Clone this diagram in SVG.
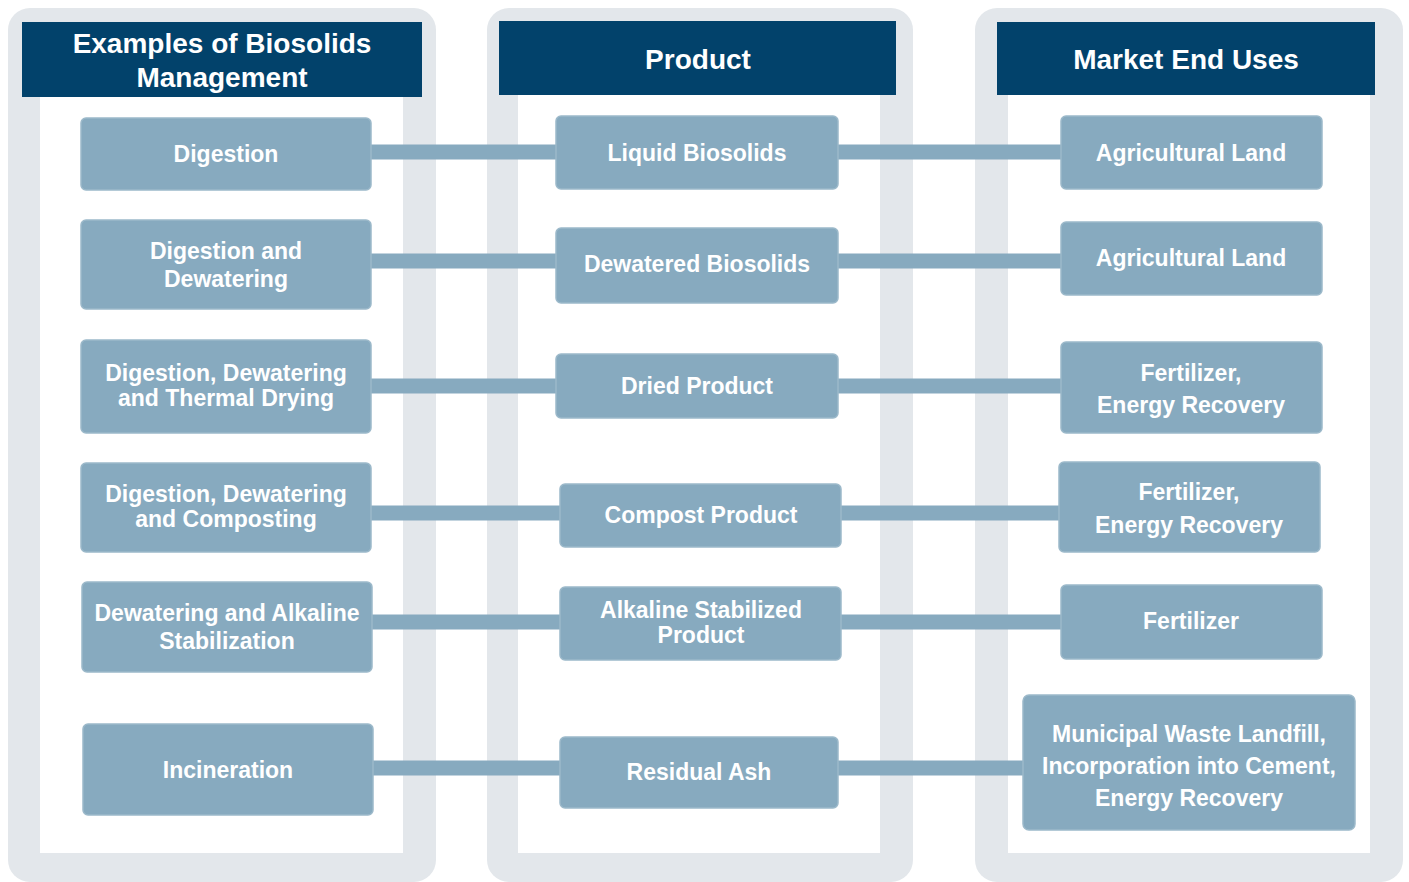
<svg xmlns="http://www.w3.org/2000/svg" width="1409" height="882" viewBox="0 0 1409 882">
  <style>
    .panel { fill: #e3e7eb; }
    .inner { fill: #ffffff; }
    .header { fill: #02426b; }
    .htxt { font-family: "Liberation Sans", Arial, sans-serif; font-weight: bold; font-size: 28px; fill: #ffffff; text-anchor: middle; }
    .node rect { fill: #87aabf; stroke: #9cb9ca; stroke-width: 1.5; }
    .node text { font-family: "Liberation Sans", Arial, sans-serif; font-weight: bold; font-size: 23px; fill: #ffffff; text-anchor: middle; }
    .link { stroke: #87aabf; stroke-width: 15; fill: none; }
  </style>

  <!-- column panels -->
  <g id="panel-management">
    <rect class="panel" x="8" y="8" width="428" height="874" rx="22"/>
    <rect class="inner" x="40" y="96" width="363" height="757"/>
    <rect class="header" x="22" y="22" width="400" height="75"/>
    <text class="htxt" x="222" y="53">Examples of Biosolids</text>
    <text class="htxt" x="222" y="87">Management</text>
  </g>
  <g id="panel-product">
    <rect class="panel" x="487" y="8" width="426" height="874" rx="22"/>
    <rect class="inner" x="518" y="94" width="362" height="759"/>
    <rect class="header" x="499" y="21" width="397" height="74"/>
    <text class="htxt" x="698" y="69">Product</text>
  </g>
  <g id="panel-enduses">
    <rect class="panel" x="975" y="8" width="428" height="874" rx="22"/>
    <rect class="inner" x="1008" y="94" width="362" height="759"/>
    <rect class="header" x="997" y="22" width="378" height="73"/>
    <text class="htxt" x="1186" y="69">Market End Uses</text>
  </g>

  <!-- connectors -->
  <g id="connectors">
    <line class="link" x1="371" y1="152" x2="556" y2="152"/>
    <line class="link" x1="838" y1="152" x2="1061" y2="152"/>
    <line class="link" x1="371" y1="261" x2="556" y2="261"/>
    <line class="link" x1="838" y1="261" x2="1061" y2="261"/>
    <line class="link" x1="371" y1="386" x2="556" y2="386"/>
    <line class="link" x1="838" y1="386" x2="1061" y2="386"/>
    <line class="link" x1="371" y1="513" x2="560" y2="513"/>
    <line class="link" x1="841" y1="513" x2="1059" y2="513"/>
    <line class="link" x1="372" y1="622" x2="560" y2="622"/>
    <line class="link" x1="841" y1="622" x2="1061" y2="622"/>
    <line class="link" x1="373" y1="768" x2="560" y2="768"/>
    <line class="link" x1="838" y1="768" x2="1023" y2="768"/>
  </g>

  <!-- management methods -->
  <g id="digestion" class="node">
    <rect x="81" y="118" width="290" height="72" rx="5"/>
    <text x="226" y="162">Digestion</text>
  </g>
  <g id="digestion-dewatering" class="node">
    <rect x="81" y="220" width="290" height="89" rx="5"/>
    <text x="226" y="259">Digestion and</text>
    <text x="226" y="287">Dewatering</text>
  </g>
  <g id="thermal-drying" class="node">
    <rect x="81" y="340" width="290" height="93" rx="5"/>
    <text x="226" y="381">Digestion, Dewatering</text>
    <text x="226" y="406">and Thermal Drying</text>
  </g>
  <g id="composting" class="node">
    <rect x="81" y="463" width="290" height="89" rx="5"/>
    <text x="226" y="502">Digestion, Dewatering</text>
    <text x="226" y="527">and Composting</text>
  </g>
  <g id="alkaline-stabilization" class="node">
    <rect x="82" y="582" width="290" height="90" rx="5"/>
    <text x="227" y="621">Dewatering and Alkaline</text>
    <text x="227" y="649">Stabilization</text>
  </g>
  <g id="incineration" class="node">
    <rect x="83" y="724" width="290" height="91" rx="5"/>
    <text x="228" y="778">Incineration</text>
  </g>

  <!-- products -->
  <g id="liquid-biosolids" class="node">
    <rect x="556" y="116" width="282" height="73" rx="5"/>
    <text x="697" y="161">Liquid Biosolids</text>
  </g>
  <g id="dewatered-biosolids" class="node">
    <rect x="556" y="228" width="282" height="75" rx="5"/>
    <text x="697" y="272">Dewatered Biosolids</text>
  </g>
  <g id="dried-product" class="node">
    <rect x="556" y="354" width="282" height="64" rx="5"/>
    <text x="697" y="394">Dried Product</text>
  </g>
  <g id="compost-product" class="node">
    <rect x="560" y="484" width="281" height="63" rx="5"/>
    <text x="701" y="523">Compost Product</text>
  </g>
  <g id="alkaline-product" class="node">
    <rect x="560" y="587" width="281" height="73" rx="5"/>
    <text x="701" y="618">Alkaline Stabilized</text>
    <text x="701" y="643">Product</text>
  </g>
  <g id="residual-ash" class="node">
    <rect x="560" y="737" width="278" height="71" rx="5"/>
    <text x="699" y="780">Residual Ash</text>
  </g>

  <!-- end uses -->
  <g id="agricultural-land-1" class="node">
    <rect x="1061" y="116" width="261" height="73" rx="5"/>
    <text x="1191" y="161">Agricultural Land</text>
  </g>
  <g id="agricultural-land-2" class="node">
    <rect x="1061" y="222" width="261" height="73" rx="5"/>
    <text x="1191" y="266">Agricultural Land</text>
  </g>
  <g id="fertilizer-energy-1" class="node">
    <rect x="1061" y="342" width="261" height="91" rx="5"/>
    <text x="1191" y="381">Fertilizer,</text>
    <text x="1191" y="413">Energy Recovery</text>
  </g>
  <g id="fertilizer-energy-2" class="node">
    <rect x="1059" y="462" width="261" height="90" rx="5"/>
    <text x="1189" y="500">Fertilizer,</text>
    <text x="1189" y="533">Energy Recovery</text>
  </g>
  <g id="fertilizer" class="node">
    <rect x="1061" y="585" width="261" height="74" rx="5"/>
    <text x="1191" y="629">Fertilizer</text>
  </g>
  <g id="landfill-cement-energy" class="node">
    <rect x="1023" y="695" width="332" height="135" rx="6"/>
    <text x="1189" y="742">Municipal Waste Landfill,</text>
    <text x="1189" y="774">Incorporation into Cement,</text>
    <text x="1189" y="806">Energy Recovery</text>
  </g>
</svg>
